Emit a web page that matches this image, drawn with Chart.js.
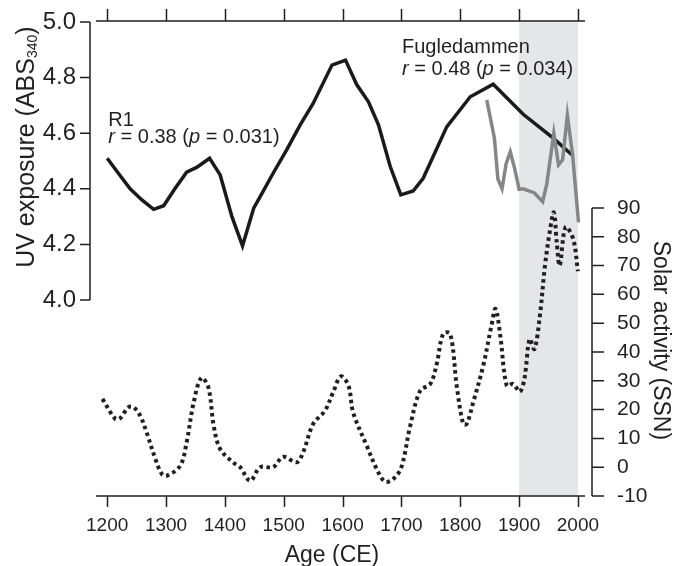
<!DOCTYPE html>
<html>
<head>
<meta charset="utf-8">
<script src="https://cdn.jsdelivr.net/npm/chart.js@4.4.1/dist/chart.umd.min.js"></script>
<style>
  html, body { margin: 0; padding: 0; background: #fff; }
  #chart { display: block; }
</style>
</head>
<body>
<canvas id="chart" width="684" height="566"></canvas>
<script>
// ---- data ----
var R1_YEARS = [1200, 1219, 1239, 1259, 1279, 1296, 1315, 1335, 1352, 1374, 1392, 1412, 1430, 1449, 1460, 1482, 1505, 1528, 1550, 1582, 1605, 1624, 1644, 1661, 1681, 1699, 1720, 1737, 1777, 1817, 1856, 1907, 1958, 1992];
var R1_UV = [4.51, 4.456, 4.40, 4.36, 4.326, 4.339, 4.40, 4.46, 4.477, 4.51, 4.45, 4.30, 4.195, 4.33, 4.372, 4.456, 4.54, 4.63, 4.707, 4.845, 4.863, 4.775, 4.713, 4.63, 4.48, 4.378, 4.392, 4.438, 4.623, 4.731, 4.776, 4.668, 4.582, 4.518];

var FUG_YEARS = [1845, 1858, 1864, 1871, 1878, 1885, 1893, 1900, 1907, 1926, 1940, 1947, 1959, 1967, 1974, 1982, 1991, 2001];
var FUG_UV = [4.72, 4.583, 4.435, 4.40, 4.49, 4.533, 4.468, 4.398, 4.40, 4.385, 4.354, 4.417, 4.60, 4.486, 4.504, 4.665, 4.52, 4.279];

var SSN_YEARS = [1192, 1214, 1222, 1236, 1245, 1256, 1267, 1282, 1293, 1301, 1324, 1335, 1347, 1360, 1372, 1381, 1392, 1415, 1426, 1443, 1460, 1482, 1499, 1522, 1533, 1550, 1570, 1584, 1597, 1610, 1618, 1641, 1658, 1672, 1686, 1700, 1715, 1732, 1749, 1760, 1771, 1783, 1794, 1805, 1811, 1822, 1839, 1853, 1860, 1868, 1879, 1890, 1901, 1909, 1918, 1926, 1935, 1944, 1952, 1959, 1964, 1969, 1979, 1992, 2000];
var SSN_VALUES = [23.7, 16.7, 17, 20.8, 20.8, 17.9, 12.1, 2.8, -2.4, -3, 0.5, 8.6, 22.5, 31, 27.7, 14.4, 6.3, 1.5, 0, -4.7, 0, 0, 3.6, 1.7, 5.2, 15, 19.6, 26, 31.5, 28.3, 19, 7.5, -0.6, -5, -4.1, 0, 14.4, 26.6, 28.9, 35.8, 46.3, 46.3, 28.3, 15, 15, 22.5, 35.2, 49.1, 55, 45.7, 28.3, 28.9, 26.2, 30.6, 44.5, 41, 52, 70, 81.6, 88.5, 78, 70, 83.3, 79.2, 68];

var X_TICKS = [1200, 1300, 1400, 1500, 1600, 1700, 1800, 1900, 2000];
var UV_TICKS = [4.0, 4.2, 4.4, 4.6, 4.8, 5.0];
var SSN_TICKS = [-10, 0, 10, 20, 30, 40, 50, 60, 70, 80, 90];
var SHADE_RANGE = [1900, 2000];

// ---- look ----
var FONT = "'Liberation Sans', Arial, Helvetica, sans-serif";
var INK = '#231f20';

function toPoints(xs, ys) {
    var out = [];
    for (var i = 0; i < xs.length; i++) {
        out.push({ x: xs[i], y: ys[i] });
    }
    return out;
}

function fixTicks(list) {
    return function (scale) {
        scale.ticks = list.map(function (v) { return { value: v }; });
    };
}

// fixed box size, no label overflow padding (keeps the plot area where we want it)
function fitBox(w, h) {
    return function (s) {
        if (w !== null) { s.width = w; }
        if (h !== null) { s.height = h; }
        s.paddingTop = 0;
        s.paddingBottom = 0;
        s.paddingLeft = 0;
        s.paddingRight = 0;
    };
}

// draws a run of [text, italic] pieces starting at x
function drawRich(ctx, parts, x, y, size) {
    for (var i = 0; i < parts.length; i++) {
        ctx.font = (parts[i][1] ? 'italic ' : '') + size + 'px ' + FONT;
        ctx.fillText(parts[i][0], x, y);
        x += ctx.measureText(parts[i][0]).width;
    }
}

var framePlugin = {
    id: 'frame',
    beforeDatasetsDraw: function (chart) {
        var ctx = chart.ctx;
        var a = chart.chartArea;
        var x = chart.scales.x;
        var x0 = x.getPixelForValue(SHADE_RANGE[0]);
        var x1 = x.getPixelForValue(SHADE_RANGE[1]);
        ctx.save();
        ctx.fillStyle = '#e5e6e8';
        ctx.fillRect(x0, a.top, x1 - x0, a.bottom - a.top);
        ctx.restore();
    },
    afterDraw: function (chart) {
        var ctx = chart.ctx;
        var a = chart.chartArea;
        var x = chart.scales.x;
        var yL = chart.scales.yUV;
        var yR = chart.scales.ySSN;
        ctx.save();
        ctx.strokeStyle = INK;
        ctx.lineWidth = 1.5;
        ctx.lineCap = 'butt';

        // bottom + top axis
        ctx.beginPath();
        ctx.moveTo(a.left, a.bottom); ctx.lineTo(a.right, a.bottom);
        ctx.moveTo(a.left, a.top); ctx.lineTo(a.right, a.top);
        X_TICKS.forEach(function (v) {
            var px = Math.round(x.getPixelForValue(v)) + 0.5;
            ctx.moveTo(px, a.bottom); ctx.lineTo(px, a.bottom + 11);
            ctx.moveTo(px, a.top); ctx.lineTo(px, a.top - 12);
        });
        // left axis (UV)
        var lx = a.left - 6;
        ctx.moveTo(lx, yL.getPixelForValue(UV_TICKS[0]));
        ctx.lineTo(lx, yL.getPixelForValue(UV_TICKS[UV_TICKS.length - 1]));
        UV_TICKS.forEach(function (v) {
            var py = yL.getPixelForValue(v);
            ctx.moveTo(lx, py); ctx.lineTo(lx - 10, py);
        });
        // right axis (SSN)
        var rx = a.right + 7;
        ctx.moveTo(rx, yR.getPixelForValue(SSN_TICKS[0]));
        ctx.lineTo(rx, yR.getPixelForValue(SSN_TICKS[SSN_TICKS.length - 1]));
        SSN_TICKS.forEach(function (v) {
            var py = yR.getPixelForValue(v);
            ctx.moveTo(rx, py); ctx.lineTo(rx + 12, py);
        });
        ctx.stroke();

        ctx.fillStyle = INK;
        ctx.textBaseline = 'alphabetic';

        // left title with subscript
        ctx.save();
        ctx.translate(27, yL.getPixelForValue(4.55));
        ctx.rotate(-Math.PI / 2);
        ctx.textBaseline = 'middle';
        var main = 'UV exposure (ABS', sub = '340', end = ')';
        ctx.font = '25px ' + FONT;
        var w1 = ctx.measureText(main).width, w3 = ctx.measureText(end).width;
        ctx.font = '14px ' + FONT;
        var w2 = ctx.measureText(sub).width;
        var sx = -(w1 + w2 + w3) / 2;
        ctx.font = '25px ' + FONT;
        ctx.fillText(main, sx, 0);
        ctx.font = '14px ' + FONT;
        ctx.fillText(sub, sx + w1, 6);
        ctx.font = '25px ' + FONT;
        ctx.fillText(end, sx + w1 + w2, 0);
        ctx.restore();

        // right title
        ctx.save();
        ctx.translate(660, yR.getPixelForValue(44));
        ctx.rotate(Math.PI / 2);
        ctx.textAlign = 'center';
        ctx.textBaseline = 'middle';
        ctx.font = '23px ' + FONT;
        ctx.fillText('Solar activity (SSN)', 0, 0);
        ctx.restore();

        // bottom title
        ctx.textAlign = 'center';
        ctx.font = '23px ' + FONT;
        ctx.fillText('Age (CE)', x.getPixelForValue(1582), a.bottom + 66);

        // annotations
        ctx.textAlign = 'left';
        ctx.font = '20px ' + FONT;
        ctx.fillText('R1', x.getPixelForValue(1202), yL.getPixelForValue(4.627));
        drawRich(ctx, [['r', true], [' = 0.38 (', false], ['p', true], [' = 0.031)', false]],
            x.getPixelForValue(1202), yL.getPixelForValue(4.566), 20);
        ctx.font = '20px ' + FONT;
        ctx.fillText('Fugledammen', x.getPixelForValue(1701), yL.getPixelForValue(4.888));
        drawRich(ctx, [['r', true], [' = 0.48 (', false], ['p', true], [' = 0.034)', false]],
            x.getPixelForValue(1701), yL.getPixelForValue(4.809), 20);
        ctx.restore();
    }
};

var chart = new Chart(document.getElementById('chart'), {
    type: 'line',
    data: {
        datasets: [
            {
                label: 'SSN',
                data: toPoints(SSN_YEARS, SSN_VALUES),
                yAxisID: 'ySSN',
                borderColor: INK,
                borderWidth: 4,
                borderDash: [3.5, 3.5],
                tension: 0.35,
                pointRadius: 0,
                fill: false
            },
            {
                label: 'Fugledammen',
                data: toPoints(FUG_YEARS, FUG_UV),
                yAxisID: 'yUV',
                borderColor: '#868686',
                borderWidth: 3.5,
                tension: 0,
                pointRadius: 0,
                fill: false
            },
            {
                label: 'R1',
                data: toPoints(R1_YEARS, R1_UV),
                yAxisID: 'yUV',
                borderColor: '#1a1a1a',
                borderWidth: 3.5,
                tension: 0,
                pointRadius: 0,
                fill: false
            }
        ]
    },
    options: {
        responsive: false,
        animation: false,
        devicePixelRatio: 1,
        layout: { padding: 0 },
        plugins: {
            legend: { display: false },
            tooltip: { enabled: false }
        },
        scales: {
            x: {
                type: 'linear',
                position: 'bottom',
                min: 1181,
                max: 2012,
                grid: { display: false, drawTicks: false },
                border: { display: false },
                afterBuildTicks: fixTicks(X_TICKS),
                afterFit: fitBox(null, 70),
                ticks: {
                    font: { family: FONT, size: 19 },
                    color: INK,
                    padding: 18,
                    maxRotation: 0,
                    callback: function (v) { return String(v); }
                }
            },
            xTop: {
                type: 'linear',
                position: 'top',
                min: 1181,
                max: 2012,
                grid: { display: false, drawTicks: false },
                border: { display: false },
                ticks: { display: false },
                afterFit: fitBox(null, 21)
            },
            yUV: {
                type: 'linear',
                position: 'left',
                min: 3.295,
                max: 5.0036,
                grid: { display: false, drawTicks: false },
                border: { display: false },
                afterBuildTicks: fixTicks(UV_TICKS),
                afterFit: fitBox(96, null),
                ticks: {
                    font: { family: FONT, size: 24 },
                    color: INK,
                    padding: 20,
                    callback: function (v) { return Number(v).toFixed(1); }
                }
            },
            ySSN: {
                type: 'linear',
                position: 'right',
                min: -10,
                max: 154.9,
                grid: { display: false, drawTicks: false },
                border: { display: false },
                afterBuildTicks: fixTicks(SSN_TICKS),
                afterFit: fitBox(99, null),
                ticks: {
                    font: { family: FONT, size: 21 },
                    color: INK,
                    padding: 32,
                    callback: function (v) { return String(v); }
                }
            }
        }
    },
    plugins: [framePlugin]
});
</script>
</body>
</html>
